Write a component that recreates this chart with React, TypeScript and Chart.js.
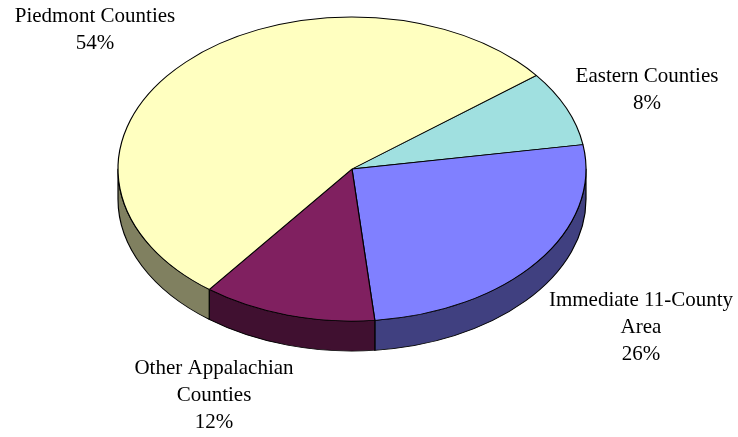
import React, { useEffect, useRef } from "react";
import { Chart, registerables } from "chart.js";

Chart.register(...registerables);

const categories = ["Eastern Counties", "Immediate 11-County Area", "Other Appalachian Counties", "Piedmont Counties"];
const shares = [8, 26, 12, 54];
const labelLines = [
  ["Eastern Counties", "8%"],
  ["Immediate 11-County", "Area", "26%"],
  ["Other Appalachian", "Counties", "12%"],
  ["Piedmont Counties", "54%"],
];
const topColors = ["#A0E0E0", "#8080FF", "#802060", "#FFFFC0"];
const sideColors = ["#507070", "#404080", "#401030", "#808060"];

// layout (not data)
const CENTER = { x: 352, y: 169 };
const RX = 234;
const RY = 152;
const DEPTH = 30;
const LABEL_POS = [
  { x: 647, y: 90 },
  { x: 641, y: 327 },
  { x: 214, y: 395 },
  { x: 95, y: 30 },
];
const LINE_H = 27;

const pie3d = {
  id: "pie3d",
  beforeDatasetsDraw(chart: any) {
    const meta = chart.getDatasetMeta(0);
    const arcs = meta.data;
    if (!arcs.length) return;
    const { x, y, outerRadius: R } = arcs[0].getProps(["x", "y", "outerRadius"], true);
    const kx = RX / R;
    const ky = RY / R;
    const ctx = chart.ctx;
    ctx.save();
    ctx.translate(CENTER.x, CENTER.y);
    ctx.scale(kx, ky);
    ctx.translate(-x, -y);
    const d = DEPTH / ky;
    arcs.forEach((arc: any, i: number) => {
      const p = arc.getProps(["startAngle", "endAngle"], true);
      for (let k = -1; k <= 1; k++) {
        const lo = Math.max(p.startAngle, 2 * Math.PI * k);
        const hi = Math.min(p.endAngle, 2 * Math.PI * k + Math.PI);
        if (hi <= lo) continue;
        ctx.beginPath();
        ctx.arc(x, y, R, lo, hi, false);
        ctx.lineTo(x + Math.cos(hi) * R, y + Math.sin(hi) * R + d);
        ctx.arc(x, y + d, R, hi, lo, true);
        ctx.closePath();
        ctx.fillStyle = sideColors[i];
        ctx.fill();
        ctx.lineWidth = 1.1;
        ctx.strokeStyle = "#000";
        ctx.lineJoin = "round";
        ctx.stroke();
      }
    });
  },
  afterDatasetsDraw(chart: any) {
    const meta = chart.getDatasetMeta(0);
    if (!meta.data.length) return;
    chart.ctx.restore();
    const ctx = chart.ctx;
    ctx.save();
    ctx.fillStyle = "#000";
    ctx.font = "21px 'Liberation Serif', 'Times New Roman', serif";
    ctx.textAlign = "center";
    ctx.textBaseline = "middle";
    labelLines.forEach((lines, i) => {
      const pos = LABEL_POS[i];
      const top = pos.y - ((lines.length - 1) * LINE_H) / 2;
      lines.forEach((t, j) => ctx.fillText(t, pos.x, top + j * LINE_H));
    });
    ctx.restore();
  },
};

export default function App() {
  const ref = useRef<HTMLCanvasElement>(null);
  useEffect(() => {
    if (!ref.current) return;
    const chart = new Chart(ref.current, {
      type: "pie",
      data: {
        labels: categories,
        datasets: [
          {
            data: shares,
            backgroundColor: topColors,
            borderColor: "#000",
            borderWidth: 1.1,
            clip: false,
          } as any,
        ],
      },
      options: {
        responsive: false,
        animation: false,
        events: [],
        rotation: 52,
        layout: { padding: 0 },
        plugins: { legend: { display: false }, tooltip: { enabled: false } },
      },
      plugins: [pie3d],
    });
    return () => chart.destroy();
  }, []);
  return (
    <div style={{ position: "absolute", left: 0, top: 0, width: 738, height: 437, background: "#fff" }}>
      <canvas ref={ref} width={738} height={437} />
    </div>
  );
}
